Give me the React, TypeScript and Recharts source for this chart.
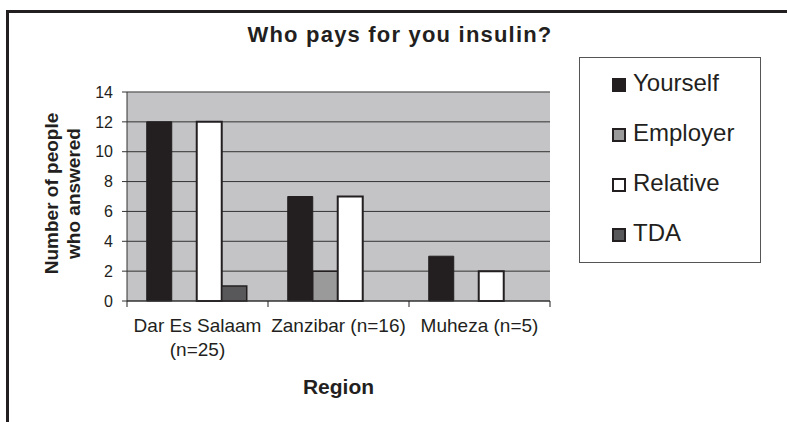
import { BarChart, Bar, XAxis, YAxis, CartesianGrid, Legend, ReferenceLine } from "recharts";

// Data
const regions = ["Dar Es Salaam (n=25)", "Zanzibar (n=16)", "Muheza (n=5)"];
const regionLines = [["Dar Es Salaam", "(n=25)"], ["Zanzibar (n=16)"], ["Muheza (n=5)"]];
const yourself = [12, 7, 3];
const employer = [0, 2, 0];
const relative = [12, 7, 2];
const tda = [1, 0, 0];
const yTicks = [0, 2, 4, 6, 8, 10, 12, 14];

const FONT = "'Liberation Sans', Arial, Helvetica, sans-serif";
const INK = "#231f20";

const series = [
  { key: "Yourself", fill: INK, stroke: INK, strokeWidth: 1 },
  { key: "Employer", fill: "#9a9a9a", stroke: INK, strokeWidth: 1.5 },
  { key: "Relative", fill: "#ffffff", stroke: INK, strokeWidth: 2 },
  { key: "TDA", fill: "#58585a", stroke: INK, strokeWidth: 1.5 },
];

const data = regions.map((region, i) => ({
  region,
  Yourself: yourself[i],
  Employer: employer[i],
  Relative: relative[i],
  TDA: tda[i],
}));

function RegionTick(props: any) {
  const { x, y, payload, index, visibleTicksCount } = props;
  const half = payload?.offset ?? 0;
  const lines = regionLines[index] ?? [String(payload.value)];
  return (
    <g>
      <line x1={x - half} x2={x - half} y1={y - 6} y2={y} stroke={INK} />
      {index === visibleTicksCount - 1 && (
        <line x1={x + half} x2={x + half} y1={y - 6} y2={y} stroke={INK} />
      )}
      <text x={x} y={y} textAnchor="middle" fontSize={19} fill={INK} fontFamily={FONT}>
        {lines.map((l, i) => (
          <tspan key={i} x={x} dy={i === 0 ? 25 : 24}>
            {l}
          </tspan>
        ))}
      </text>
    </g>
  );
}

function YTitle(props: any) {
  const vb = props.viewBox;
  const cx = vb.x + 58;
  const cy = vb.y + vb.height / 2 - 3;
  return (
    <text
      transform={`rotate(-90, ${cx}, ${cy})`}
      x={cx}
      y={cy}
      textAnchor="middle"
      fontSize={19}
      fontWeight="bold"
      fill={INK}
      fontFamily={FONT}
    >
      <tspan x={cx} dy={0}>Number of people</tspan>
      <tspan x={cx} dy={22}>who answered</tspan>
    </text>
  );
}

function XTitle(props: any) {
  const vb = props.viewBox;
  return (
    <text
      x={vb.x + vb.width / 2}
      y={vb.y + 93}
      textAnchor="middle"
      fontSize={21}
      fontWeight="bold"
      fill={INK}
      fontFamily={FONT}
    >
      Region
    </text>
  );
}

function LegendBox(props: any) {
  const order = series.map((s) => s.key);
  const payload = [...(props.payload || [])].sort(
    (a: any, b: any) => order.indexOf(a.dataKey) - order.indexOf(b.dataKey)
  );
  return (
    <div
      style={{
        width: 182,
        height: 206,
        boxSizing: "border-box",
        border: "1px solid #555",
        background: "#fff",
        fontFamily: FONT,
      }}
    >
      {payload.map((entry: any) => {
        const s = series.find((x) => x.key === entry.dataKey) || series[0];
        return (
          <div
            key={entry.value}
            style={{ height: 50, display: "flex", alignItems: "center", paddingLeft: 32 }}
          >
            <span
              style={{
                width: 14,
                height: 14,
                boxSizing: "border-box",
                background: s.fill,
                border: `2px solid ${s.stroke}`,
                marginRight: 7,
                marginTop: 4,
              }}
            />
            <span style={{ fontSize: 24, color: INK, lineHeight: "24px" }}>{entry.value}</span>
          </div>
        );
      })}
    </div>
  );
}

export default function App() {
  return (
    <div
      style={{
        position: "absolute",
        left: 0,
        top: 0,
        width: 787,
        height: 422,
        overflow: "hidden",
        background: "#fff",
      }}
    >
      <div
        style={{
          position: "absolute",
          left: 6,
          top: 10,
          width: 1000,
          height: 1000,
          borderLeft: `3px solid ${INK}`,
          borderTop: `3px solid ${INK}`,
        }}
      />
      <div
        style={{
          position: "absolute",
          left: 0,
          top: 24,
          width: 800,
          textAlign: "center",
          fontFamily: FONT,
          fontWeight: "bold",
          fontSize: 22,
          lineHeight: "22px",
          letterSpacing: 1.2,
          whiteSpace: "nowrap",
          color: INK,
        }}
      >
        Who pays for you insulin?
      </div>
      <div style={{ position: "absolute", left: 0, top: 0 }}>
        <BarChart
          width={787}
          height={422}
          data={data}
          margin={{ top: 92, right: 237, bottom: 0, left: 0 }}
          barGap={0}
          barCategoryGap="14%"
        >
          <CartesianGrid vertical={false} fill="#c4c4c6" fillOpacity={1} stroke="#333" />
          <XAxis
            dataKey="region"
            height={121}
            interval={0}
            tickLine={false}
            tickSize={6}
            tickMargin={0}
            axisLine={{ stroke: "#333" }}
            tick={<RegionTick />}
            label={<XTitle />}
          />
          <YAxis
            width={127}
            domain={[0, 14]}
            ticks={yTicks}
            interval={0}
            tickSize={5}
            tickMargin={9}
            axisLine={{ stroke: "#333" }}
            tickLine={{ stroke: "#333" }}
            tick={{ fontSize: 16, fill: INK, fontFamily: FONT }}
            label={<YTitle />}
          />
          <YAxis
            yAxisId="right"
            orientation="right"
            width={0}
            domain={[0, 14]}
            tick={false}
            tickLine={false}
            axisLine={{ stroke: "#8a8a8a" }}
          />
          <ReferenceLine y={14} stroke="#8a8a8a" />
          {series.map((s) => (
            <Bar
              key={s.key}
              dataKey={s.key}
              fill={s.fill}
              stroke={s.stroke}
              strokeWidth={s.strokeWidth}
              isAnimationActive={false}
            />
          ))}
          <Legend
            layout="vertical"
            align="center"
            verticalAlign="middle"
            wrapperStyle={{ left: 579, top: 57, width: 182, height: 206 }}
            content={<LegendBox />}
          />
        </BarChart>
      </div>
    </div>
  );
}
